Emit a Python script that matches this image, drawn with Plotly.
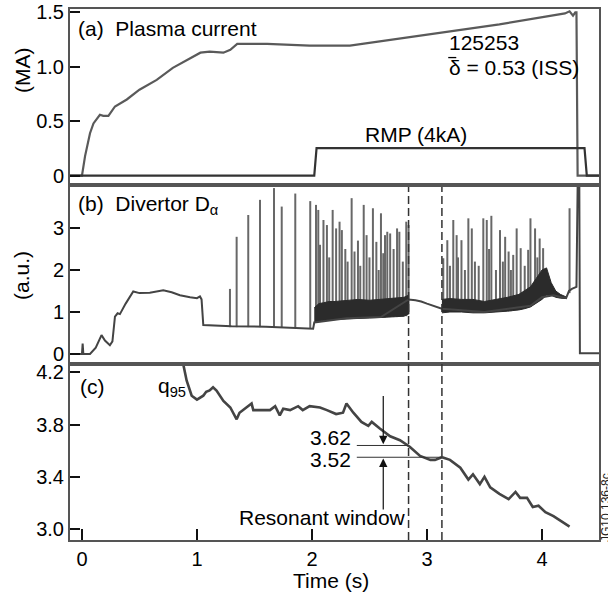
import plotly.graph_objects as go

# ---------------- data ----------------
# (a) plasma current (MA) and RMP
ip_t = [-0.104, 0.0, 0.027, 0.07, 0.1, 0.156, 0.185, 0.23, 0.287, 0.39, 0.5, 0.65, 0.79, 0.91, 1.03,
        1.11, 1.23, 1.29, 1.35, 1.61, 1.98, 2.33, 3.05, 3.63, 4.2, 4.24, 4.27, 4.29, 4.30, 4.31, 4.5]
ip_v = [0.0, 0.0, 0.18, 0.39, 0.48, 0.56, 0.55, 0.55, 0.636, 0.70, 0.79, 0.88, 0.99, 1.06, 1.13,
        1.14, 1.13, 1.156, 1.21, 1.21, 1.195, 1.195, 1.30, 1.39, 1.49, 1.51, 1.47, 1.5, 1.5, 0.0, 0.0]
rmp_t = [-0.104, 2.02, 2.04, 4.37, 4.39, 4.5]
rmp_v = [0.0, 0.0, 0.254, 0.254, 0.0, 0.0]

# (b) divertor D-alpha, main trace
da_t = [-0.104, 0.0, 0.006, 0.012, 0.07, 0.12, 0.17, 0.2, 0.243, 0.265, 0.287, 0.31, 0.33, 0.38, 0.446,
        0.5, 0.59, 0.65, 0.707, 0.78, 0.852, 0.94, 1.0, 1.026, 1.04, 1.055, 1.3, 1.6, 1.9, 2.01, 2.02,
        2.3, 2.6, 2.84, 2.9, 2.95, 3.0, 3.05, 3.1, 3.13, 3.5, 3.9, 4.0, 4.1, 4.21, 4.225, 4.235, 4.26,
        4.3, 4.31, 4.325, 4.33, 4.5]
da_v = [0.0, 0.0, 0.25, 0.0, 0.0, 0.15, 0.45, 0.32, 0.21, 0.3, 0.89, 0.97, 0.95, 1.2, 1.49,
        1.45, 1.46, 1.5, 1.52, 1.47, 1.40, 1.35, 1.33, 1.37, 1.3, 0.69, 0.66, 0.65, 0.62, 0.6, 0.75,
        0.85, 0.88, 1.3, 1.28, 1.25, 1.2, 1.15, 1.1, 1.08, 1.0, 1.15, 1.35, 1.4, 1.33, 1.45, 1.5, 1.55,
        1.6, 3.95, 3.95, 0.02, 0.02]

# dense ELM bands (lower / upper envelope)
b1_t = [2.02, 2.06, 2.1, 2.15, 2.2, 2.3, 2.4, 2.5, 2.6, 2.7, 2.8, 2.84]
b1_lo = [0.75, 0.78, 0.8, 0.8, 0.82, 0.84, 0.85, 0.86, 0.87, 0.88, 0.9, 0.95]
b1_hi = [1.1, 1.2, 1.22, 1.25, 1.25, 1.28, 1.3, 1.28, 1.3, 1.32, 1.35, 1.4]
b2_t = [3.13, 3.2, 3.3, 3.4, 3.5, 3.6, 3.7, 3.8, 3.85, 3.9, 3.95, 4.0, 4.04, 4.08, 4.12, 4.16, 4.21]
b2_lo = [0.98, 1.0, 1.0, 0.98, 0.98, 1.0, 1.02, 1.05, 1.08, 1.12, 1.2, 1.3, 1.4, 1.4, 1.35, 1.33, 1.32]
b2_hi = [1.3, 1.32, 1.3, 1.3, 1.25, 1.3, 1.35, 1.42, 1.5, 1.6, 1.8, 2.0, 2.05, 1.7, 1.5, 1.42, 1.36]

# ELM spikes: time, base, peak
elm_t = [1.287, 1.345, 1.446, 1.548, 1.670, 1.737, 1.855, 1.985,
         2.035, 2.055, 2.07, 2.10, 2.13, 2.15, 2.18, 2.21, 2.24, 2.26, 2.29, 2.31, 2.345, 2.37, 2.40,
         2.42, 2.45, 2.475, 2.50, 2.53, 2.56, 2.58, 2.60, 2.62, 2.635, 2.655, 2.68, 2.71, 2.74, 2.76,
         2.79, 2.82, 2.84,
         3.142, 3.177, 3.20, 3.229, 3.258, 3.27, 3.30, 3.33, 3.36, 3.39, 3.417, 3.45, 3.49, 3.52, 3.54,
         3.56, 3.60, 3.635, 3.66, 3.68, 3.71, 3.73, 3.75, 3.78, 3.815, 3.85, 3.88, 3.90, 3.94, 3.96,
         3.98, 4.01, 4.24]
elm_base = [0.64, 0.64, 0.64, 0.64, 0.64, 0.64, 0.62, 0.62,
            0.8, 0.8, 0.8, 0.8, 0.8, 0.8, 0.82, 0.82, 0.82, 0.84, 0.84, 0.84, 0.85, 0.85, 0.85,
            0.85, 0.86, 0.86, 0.86, 0.86, 0.87, 0.87, 0.87, 0.87, 0.87, 0.88, 0.88, 0.88, 0.88, 0.9,
            0.9, 0.9, 0.95,
            1.0, 1.0, 1.0, 1.0, 1.0, 1.0, 1.0, 1.0, 1.0, 1.0, 1.0, 1.0, 1.0, 1.0, 1.0,
            1.0, 1.0, 1.02, 1.02, 1.02, 1.02, 1.02, 1.05, 1.05, 1.05, 1.08, 1.1, 1.12, 1.2, 1.25,
            1.3, 1.35, 1.45]
elm_peak = [1.55, 2.79, 3.31, 3.67, 3.95, 3.51, 3.82, 3.64,
            3.55, 3.43, 2.6, 3.19, 3.07, 2.3, 3.43, 2.99, 3.15, 2.95, 2.5, 2.2, 3.71, 2.44, 2.7,
            2.1, 3.55, 2.83, 2.3, 3.47, 2.67, 2.0, 3.35, 2.4, 2.83, 2.91, 2.87, 2.5, 2.99, 2.91,
            2.2, 3.15, 3.07,
            2.28, 2.71, 2.1, 3.19, 2.83, 2.3, 2.71, 2.0, 3.23, 2.99, 2.20, 2.1, 3.23, 3.19, 2.5,
            3.29, 2.0, 2.95, 2.2, 2.79, 2.44, 2.0, 2.36, 2.99, 2.52, 2.1, 2.48, 3.23, 2.99, 2.3,
            2.75, 2.52, 3.47]

# (c) q95
q_t = [0.86, 0.88, 0.91, 0.954, 1.0, 1.055, 1.08, 1.11, 1.14, 1.17, 1.23, 1.29, 1.345, 1.37, 1.417,
       1.475, 1.49, 1.55, 1.635, 1.68, 1.72, 1.75, 1.81, 1.88, 1.92, 1.98, 2.07, 2.13, 2.21, 2.27,
       2.30, 2.36, 2.43, 2.49, 2.52, 2.59, 2.68, 2.765, 2.85, 2.94, 3.03, 3.07, 3.13, 3.2, 3.29,
       3.36, 3.40, 3.46, 3.50, 3.55, 3.63, 3.71, 3.77, 3.81, 3.87, 3.92, 3.97, 4.03, 4.10, 4.17, 4.24]
q_v = [4.35, 4.26, 4.136, 4.02, 3.99, 4.02, 4.05, 4.06, 4.085, 4.06, 3.98, 3.93, 3.84, 3.89, 3.92,
       3.96, 3.91, 3.91, 3.91, 3.94, 3.87, 3.92, 3.91, 3.94, 3.91, 3.94, 3.93, 3.91, 3.88, 3.89,
       3.96, 3.89, 3.82, 3.79, 3.82, 3.77, 3.71, 3.68, 3.63, 3.56, 3.53, 3.53, 3.55, 3.53, 3.47,
       3.38, 3.42, 3.345, 3.40, 3.32, 3.27, 3.23, 3.285, 3.24, 3.24, 3.17, 3.18, 3.13, 3.10, 3.06, 3.02]

window_t = [2.84, 3.13]          # resonant window (dashed lines)
q_marks = [3.62, 3.52]           # labelled q95 levels
q_mark_pos = [3.64, 3.55]        # drawn level of the marker lines
x_ticks = [0, 1, 2, 3, 4]

assert len(ip_t) == len(ip_v) and len(da_t) == len(da_v) and len(q_t) == len(q_v)
assert len(elm_t) == len(elm_base) == len(elm_peak)

# ---------------- figure ----------------
FONT = "Liberation Sans, Arial, sans-serif"
XR = [-0.104, 4.496]
FRAME = "#555555"

fig = go.Figure()

fig.add_trace(go.Scatter(x=ip_t, y=ip_v, mode="lines", line=dict(color="#5a5a5a", width=2.2),
                         xaxis="x", yaxis="y", hoverinfo="skip"))
fig.add_trace(go.Scatter(x=rmp_t, y=rmp_v, mode="lines", line=dict(color="#333333", width=2.2),
                         xaxis="x", yaxis="y", hoverinfo="skip"))

sx, sy = [], []
for t, b, p in zip(elm_t, elm_base, elm_peak):
    sx += [t, t, None]
    sy += [b, p, None]
fig.add_trace(go.Scatter(x=sx, y=sy, mode="lines", line=dict(color="#686868", width=2),
                         xaxis="x2", yaxis="y2", hoverinfo="skip", connectgaps=False))
for bt, lo, hi in [(b1_t, b1_lo, b1_hi), (b2_t, b2_lo, b2_hi)]:
    fig.add_trace(go.Scatter(x=bt + bt[::-1], y=hi + lo[::-1], mode="lines", fill="toself",
                             fillcolor="#2b2b2b", line=dict(color="#2b2b2b", width=1),
                             xaxis="x2", yaxis="y2", hoverinfo="skip"))
fig.add_trace(go.Scatter(x=da_t, y=da_v, mode="lines", line=dict(color="#444444", width=2),
                         xaxis="x2", yaxis="y2", hoverinfo="skip"))

fig.add_trace(go.Scatter(x=q_t, y=q_v, mode="lines", line=dict(color="#444444", width=2.6),
                         xaxis="x3", yaxis="y3", hoverinfo="skip"))

axis_common = dict(showline=True, mirror=True, linecolor=FRAME, linewidth=2, showgrid=False,
                   zeroline=False, ticks="inside", tickcolor="#111", tickwidth=1.5,
                   automargin=False,
                   tickfont=dict(family=FONT, size=20, color="black"))

yd_a = [0.6723, 1.0]
yd_b = [0.3352, 0.6648]
yd_c = [0.0, 0.3277]

fig.update_layout(
    width=608, height=599,
    margin=dict(l=70, r=9, t=9, b=59, pad=0),
    paper_bgcolor="white", plot_bgcolor="white",
    showlegend=False,
    font=dict(family=FONT, size=20, color="black"),
    xaxis=dict(axis_common, domain=[0, 1], anchor="y", range=XR, showticklabels=False, ticks=""),
    xaxis2=dict(axis_common, domain=[0, 1], anchor="y2", range=XR, showticklabels=False, ticks=""),
    xaxis3=dict(axis_common, domain=[0, 1], anchor="y3", range=XR, tickvals=x_ticks,
                ticktext=[str(v) for v in x_ticks], ticklen=11),
    yaxis=dict(axis_common, domain=yd_a, anchor="x", range=[-0.067, 1.531],
               tickvals=[0, 0.5, 1.0, 1.5], ticktext=["0", "0.5", "1.0", "1.5"], ticklen=10),
    yaxis2=dict(axis_common, domain=yd_b, anchor="x2", range=[-0.19, 3.976],
                tickvals=[0, 1, 2, 3], ticktext=["0", "1", "2", "3"], ticklen=10),
    yaxis3=dict(axis_common, domain=yd_c, anchor="x3", range=[2.918, 4.247],
                tickvals=[3.0, 3.4, 3.8, 4.2], ticktext=["3.0", "3.4", "3.8", "4.2"], ticklen=10),
)

shapes = []
for wt in window_t:
    shapes.append(dict(type="line", xref="x2", yref="paper", x0=wt, x1=wt, y0=0, y1=yd_b[1],
                       line=dict(color="#333", width=1.5, dash="8px,4px")))
shapes.append(dict(type="line", xref="x3", yref="y3", x0=2.39, x1=window_t[0], y0=q_mark_pos[0],
                   y1=q_mark_pos[0], line=dict(color="#333", width=1)))
shapes.append(dict(type="line", xref="x3", yref="y3", x0=2.39, x1=window_t[1], y0=q_mark_pos[1],
                   y1=q_mark_pos[1], line=dict(color="#333", width=1)))
# overbar of delta
shapes.append(dict(type="line", xref="x", yref="y", x0=3.185, x1=3.255, y0=1.085, y1=1.085,
                   line=dict(color="black", width=1.3)))
fig.update_layout(shapes=shapes)

TF = dict(family=FONT, size=21, color="black")
ann = [
    dict(xref="x", yref="y", x=-0.052, y=1.35, text="(a)\u00a0\u00a0Plasma current",
         xanchor="left", yanchor="middle", showarrow=False, font=TF),
    dict(xref="x", yref="y", x=3.17, y=1.225, text="125253", xanchor="left", yanchor="middle",
         showarrow=False, font=TF),
    dict(xref="x", yref="y", x=3.17, y=0.99, text="\u03b4 = 0.53 (ISS)", xanchor="left",
         yanchor="middle", showarrow=False, font=TF),
    dict(xref="x", yref="y", x=2.443, y=0.376, text="RMP (4kA)", xanchor="left", yanchor="middle",
         showarrow=False, font=TF),
    dict(xref="x2", yref="y2", x=-0.052, y=3.55, text="(b)\u00a0\u00a0Divertor D<sub>\u03b1</sub>",
         xanchor="left", yanchor="middle", showarrow=False, font=TF),
    dict(xref="x3", yref="y3", x=-0.035, y=4.09, text="(c)", xanchor="left", yanchor="middle",
         showarrow=False, font=TF),
    dict(xref="x3", yref="y3", x=0.643, y=4.09, text="q<sub>95</sub>", xanchor="left",
         yanchor="middle", showarrow=False, font=TF),
    dict(xref="x3", yref="y3", x=2.357, y=3.70, text=f"{q_marks[0]:.2f}", xanchor="right",
         yanchor="middle", showarrow=False, font=TF),
    dict(xref="x3", yref="y3", x=2.357, y=3.536, text=f"{q_marks[1]:.2f}", xanchor="right",
         yanchor="middle", showarrow=False, font=TF),
    dict(xref="x3", yref="y3", x=1.348, y=3.09, text="Resonant window", xanchor="left",
         yanchor="middle", showarrow=False, font=TF),
    # arrows
    dict(xref="x3", yref="y3", axref="x3", ayref="y3", x=2.62, y=q_mark_pos[0] + 0.01, ax=2.62,
         ay=4.03, text="", showarrow=True, arrowhead=2, arrowsize=1.4, arrowwidth=1.2,
         arrowcolor="#111"),
    dict(xref="x3", yref="y3", axref="x3", ayref="y3", x=2.62, y=q_mark_pos[1] - 0.01, ax=2.62,
         ay=3.14, text="", showarrow=True, arrowhead=2, arrowsize=1.4, arrowwidth=1.2,
         arrowcolor="#111"),
    # axis titles
    dict(xref="paper", yref="paper", x=(23 - 70) / 529, y=(540 - 70) / 531, text="(MA)",
         textangle=-90, showarrow=False, xanchor="center", yanchor="middle", font=TF),
    dict(xref="paper", yref="paper", x=(22 - 70) / 529, y=(540 - 276) / 531, text="(a.u.)",
         textangle=-90, showarrow=False, xanchor="center", yanchor="middle", font=TF),
    dict(xref="paper", yref="paper", x=(331 - 70) / 529, y=(540 - 580) / 531, text="Time (s)",
         showarrow=False, xanchor="center", yanchor="middle", font=TF),
    dict(xref="paper", yref="paper", x=(606 - 70) / 529, y=(540 - 508) / 531, text="JG10.136-8c",
         textangle=-90, showarrow=False, xanchor="center", yanchor="middle",
         font=dict(family=FONT, size=12, color="#222")),
]
fig.update_layout(annotations=ann)

fig.write_html("out.html")
